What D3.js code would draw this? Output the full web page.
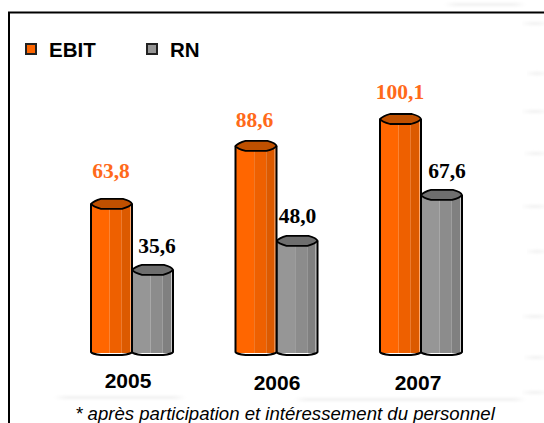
<!DOCTYPE html>
<html>
<head>
<meta charset="utf-8">
<script src="https://cdn.jsdelivr.net/npm/d3@7"></script>
<style>
html, body { margin: 0; padding: 0; background: #fff; }
svg { display: block; }
</style>
</head>
<body>
<div class="chart"></div>
<script>
const years = ["2005", "2006", "2007"];
const seriesNames = ["EBIT", "RN"];
const ebit = [63.8, 88.6, 100.1];
const rn = [35.6, 48.0, 67.6];
const footnote = "* après participation et intéressement du personnel";

const width = 544;
const height = 423;

const colors = {
    EBIT: { light: "#ff6600", mid: "#ee6000", dark: "#dc5a00", edge: "#ff9a55", top: "#bf5000", label: "#ff6a1a" },
    RN: { light: "#969696", mid: "#8c8c8c", dark: "#808080", edge: "#c4c4c4", top: "#6e6e6e", label: "#000" }
};

const svg = d3.select(".chart")
    .append("svg")
    .attr("width", width)
    .attr("height", height);

svg.append("defs")
    .append("filter")
    .attr("id", "blur")
    .attr("x", "-20%").attr("y", "-300%")
    .attr("width", "140%").attr("height", "700%")
    .append("feGaussianBlur")
    .attr("stdDeviation", "4 1.5");

// faint streaks of the slide background showing past the white panel
const streaks = [
    [526, 22, 18], [530, 72, 14], [526, 110, 18], [528, 152, 16], [526, 205, 18], [530, 250, 14],
    [526, 315, 18], [528, 356, 16], [526, 391, 18], [60, 396, 120], [300, 398, 220], [450, 3, 70]
];
svg.selectAll("rect.streak")
    .data(streaks)
    .join("rect")
    .attr("class", "streak")
    .attr("x", d => d[0])
    .attr("y", d => d[1])
    .attr("width", d => d[2])
    .attr("height", 3)
    .attr("fill", "#f0f0f0")
    .attr("filter", "url(#blur)");

// frame: left and top edges only, the top runs off the page
svg.append("path")
    .attr("d", "M9,423V12.5H544")
    .attr("fill", "none")
    .attr("stroke", "#000")
    .attr("stroke-width", 2);

// scales
const x = d3.scalePoint()
    .domain(years)
    .range([132, 421]);

const y = d3.scaleLinear()
    .domain([0, 100.1])
    .range([353, 119]);

const barWidth = 41;

function drawBar(g, cx, value, c) {
    const left = cx - barWidth / 2;
    const right = cx + barWidth / 2;
    const top = y(value);
    const base = y(0);
    const strip = barWidth / 3.4;

    const body = g.append("g");
    [[c.light, 0, 1.55], [c.mid, 1.55, 1], [c.dark, 2.55, 0.7], [c.edge, 3.25, 0.15]].forEach(s => {
        body.append("rect")
            .attr("x", left + s[1] * strip)
            .attr("y", top)
            .attr("width", s[2] * strip)
            .attr("height", base - top)
            .attr("fill", s[0]);
    });

    // outline with a rounded foot
    g.append("path")
        .attr("d", `M${left},${top}V${base - 1}Q${left + 1},${base + 1} ${left + 10},${base + 2}H${right - 10}Q${right - 1},${base + 1} ${right},${base - 1}V${top}`)
        .attr("fill", "none")
        .attr("stroke", "#000")
        .attr("stroke-width", 2);

    // top cap
    g.append("path")
        .attr("d", `M${left},${top}Q${left + 3},${top - 3} ${left + 10},${top - 5}H${right - 9}Q${right - 1},${top - 3} ${right},${top}Q${right - 2},${top + 3} ${right - 10},${top + 5}H${left + 10}Q${left + 2},${top + 3} ${left},${top}Z`)
        .attr("fill", c.top)
        .attr("stroke", "#000")
        .attr("stroke-width", 1.8)
        .attr("stroke-linejoin", "round");
}

const labelFont = "'Liberation Serif', serif";
const sansFont = "'Liberation Sans', sans-serif";

// hand placed labels, as on the slide
const ebitLabelDx = [-21, -22, -21];
const ebitLabelDy = [-26, -19, -20.5];
const rnLabelDx = [25, 21, 26];
const rnLabelDy = [-17, -18, -17];
const yearLabelDx = [-4, 0.5, -3];
const yearLabelY = [388, 390, 390];

const formatValue = v => v.toFixed(1).replace(".", ",");

years.forEach((year, i) => {
    const cx = x(year);
    const g = svg.append("g");
    // gray first so the orange bar sits over the shared edge
    drawBar(g, cx + barWidth / 2, rn[i], colors.RN);
    drawBar(g, cx - barWidth / 2, ebit[i], colors.EBIT);

    g.append("text")
        .attr("x", cx + ebitLabelDx[i])
        .attr("y", y(ebit[i]) + ebitLabelDy[i])
        .attr("text-anchor", "middle")
        .attr("font-family", labelFont)
        .attr("font-weight", "bold")
        .attr("font-size", 21.5)
        .attr("fill", colors.EBIT.label)
        .text(formatValue(ebit[i]));

    g.append("text")
        .attr("x", cx + rnLabelDx[i])
        .attr("y", y(rn[i]) + rnLabelDy[i])
        .attr("text-anchor", "middle")
        .attr("font-family", labelFont)
        .attr("font-weight", "bold")
        .attr("font-size", 21.5)
        .attr("fill", colors.RN.label)
        .text(formatValue(rn[i]));

    g.append("text")
        .attr("x", cx + yearLabelDx[i])
        .attr("y", yearLabelY[i])
        .attr("text-anchor", "middle")
        .attr("font-family", sansFont)
        .attr("font-weight", "bold")
        .attr("font-size", 21)
        .text(year);
});

// legend
const legend = svg.selectAll("g.legend")
    .data(seriesNames)
    .join("g")
    .attr("class", "legend")
    .attr("transform", (d, i) => `translate(${i === 0 ? 26 : 147},44)`);

legend.append("rect")
    .attr("width", 10)
    .attr("height", 10)
    .attr("fill", d => colors[d].light)
    .attr("stroke", "#222")
    .attr("stroke-width", 2);

legend.append("text")
    .attr("x", 23)
    .attr("y", 12.5)
    .attr("font-family", sansFont)
    .attr("font-weight", "bold")
    .attr("font-size", 20.5)
    .text(d => d);

svg.append("text")
    .attr("x", 285)
    .attr("y", 420)
    .attr("text-anchor", "middle")
    .attr("font-family", sansFont)
    .attr("font-style", "italic")
    .attr("font-size", 18.6)
    .text(footnote);
</script>
</body>
</html>
